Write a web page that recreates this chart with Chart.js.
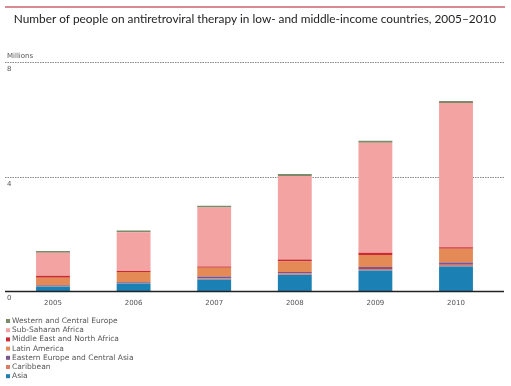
<!DOCTYPE html>
<html>
<head>
<meta charset="utf-8">
<script src="https://cdn.jsdelivr.net/npm/chart.js@4"></script>
<style>
  html, body { margin: 0; padding: 0; background: #fff; }
  #wrap { width: 511px; height: 386px; position: relative; }
</style>
</head>
<body>
<div id="wrap"><canvas id="artChart"></canvas></div>
<script>
// years and values in millions, stacked from the bottom up
var years = ['2005', '2006', '2007', '2008', '2009', '2010'];
var asia = [0.16, 0.26, 0.40, 0.57, 0.72, 0.86];
var caribbean = [0.02, 0.02, 0.04, 0.04, 0.05, 0.06];
var easternEurope = [0.03, 0.03, 0.07, 0.05, 0.07, 0.08];
var latinAmerica = [0.25, 0.35, 0.30, 0.37, 0.42, 0.48];
var middleEast = [0.07, 0.035, 0.045, 0.07, 0.08, 0.045];
var subSaharan = [0.81, 1.36, 2.06, 2.92, 3.84, 5.04];
var westernEurope = [0.06, 0.06, 0.06, 0.07, 0.07, 0.07];
var yTicks = [0, 4, 8];

var datasets = [
  { label: 'Asia', data: asia, backgroundColor: '#1b80b3' },
  { label: 'Caribbean', data: caribbean, backgroundColor: '#e07a62' },
  { label: 'Eastern Europe and Central Asia', data: easternEurope, backgroundColor: '#7a5590' },
  { label: 'Latin America', data: latinAmerica, backgroundColor: '#e38a56' },
  { label: 'Middle East and North Africa', data: middleEast, backgroundColor: '#cc2a33' },
  { label: 'Sub-Saharan Africa', data: subSaharan, backgroundColor: '#f4a3a3' },
  { label: 'Western and Central Europe', data: westernEurope, backgroundColor: '#7b8a68' }
];

var title = 'Number of people on antiretroviral therapy in low- and middle-income countries, 2005\u20132010';

// draws the title, rules, y labels and the legend around the bars
var decor = {
  id: 'decor',
  beforeDatasetsDraw: function (chart) {
    var ctx = chart.ctx;
    var y = chart.scales.y;
    ctx.save();
    ctx.strokeStyle = '#888';
    ctx.lineWidth = 1;
    ctx.setLineDash([1.5, 1]);
    yTicks.forEach(function (v) {
      if (v === 0) return;
      var py = Math.round(y.getPixelForValue(v)) + 0.5;
      ctx.beginPath();
      ctx.moveTo(5, py);
      ctx.lineTo(505, py);
      ctx.stroke();
    });
    ctx.restore();
  },
  afterDraw: function (chart) {
    var ctx = chart.ctx;
    var y = chart.scales.y;
    ctx.save();

    // red rule on top
    ctx.strokeStyle = '#c8646e';
    ctx.lineWidth = 1.5;
    ctx.beginPath();
    ctx.moveTo(5, 7);
    ctx.lineTo(505, 7);
    ctx.stroke();

    // title fitted to its width
    var size = 12;
    ctx.font = size + 'px Lato';
    var w = ctx.measureText(title).width;
    size = size * 483 / w;
    ctx.font = size + 'px Lato';
    ctx.fillStyle = '#222';
    ctx.textAlign = 'center';
    ctx.textBaseline = 'middle';
    ctx.fillText(title, 255, 19);

    // baseline
    var base = Math.round(y.getPixelForValue(0)) + 0.5;
    ctx.strokeStyle = '#222';
    ctx.lineWidth = 1.5;
    ctx.beginPath();
    ctx.moveTo(5, base);
    ctx.lineTo(504, base);
    ctx.stroke();

    // y labels
    ctx.font = '7px "DejaVu Sans"';
    ctx.fillStyle = '#555';
    ctx.textAlign = 'left';
    ctx.textBaseline = 'top';
    yTicks.forEach(function (v) {
      ctx.fillText(String(v), 7, y.getPixelForValue(v) + 4);
    });
    ctx.textBaseline = 'bottom';
    ctx.fillText('Millions', 7, y.getPixelForValue(8) - 2);

    // legend, top entry is top of the stack
    ctx.font = '7.5px "DejaVu Sans"';
    ctx.textBaseline = 'middle';
    var items = chart.data.datasets.slice().reverse();
    items.forEach(function (ds, i) {
      var ly = 321 + i * 9.2;
      ctx.fillStyle = ds.backgroundColor;
      ctx.fillRect(6, ly - 2, 4, 4);
      ctx.fillStyle = '#555';
      ctx.fillText(ds.label, 12, ly);
    });
    ctx.restore();
  }
};

new Chart(document.getElementById('artChart').getContext('2d'), {
  type: 'bar',
  data: { labels: years, datasets: datasets },
  options: {
    responsive: true,
    maintainAspectRatio: false,
    animation: false,
    layout: { padding: { left: 12.7, right: 14.7, top: 62, bottom: 78.6 } },
    plugins: {
      legend: { display: false },
      title: { display: false },
      tooltip: { enabled: false }
    },
    scales: {
      x: {
        stacked: true,
        grid: { display: false },
        border: { display: false },
        ticks: { color: '#555', font: { size: 7, family: 'DejaVu Sans' }, padding: 0 },
        categoryPercentage: 1,
        barPercentage: 0.42
      },
      y: {
        stacked: true,
        display: false,
        min: 0,
        max: 8
      }
    },
    datasets: { bar: { categoryPercentage: 1, barPercentage: 0.42 } }
  },
  plugins: [decor]
});
</script>
</body>
</html>
